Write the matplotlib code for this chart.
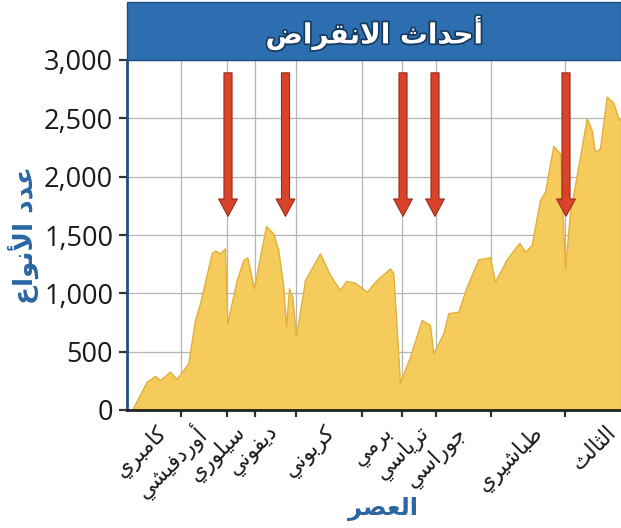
import matplotlib
matplotlib.use("Agg")
import matplotlib.pyplot as plt
import matplotlib.transforms as mtransforms
from matplotlib import patheffects
from matplotlib.patches import Rectangle
from matplotlib.ticker import FuncFormatter

# species count through time (x is position along the time axis, arbitrary units)
time = [5, 19.7, 28, 33, 43, 49.7, 61.3, 68, 73, 84.7, 88, 93, 98, 100.3,
        109.7, 116.3, 120.3, 127, 133, 139, 146.3, 151.3, 156.3, 159, 162,
        165.3, 169, 178, 193, 203, 213, 219, 228, 239.7, 249.7, 263, 266.3,
        273, 283, 294.7, 303, 306.3, 316.3, 321.3, 331.3, 339.7, 351.3, 363,
        368, 379.7, 392.3, 398, 404.7, 413, 418, 426.3, 433, 438, 443, 453,
        459.7, 464.7, 468, 473, 479.7, 486.3, 491.3, 494]
species = [0, 243, 291, 257, 329, 266, 400, 771, 914, 1343, 1366, 1343, 1386, 743,
           1114, 1286, 1309, 1043, 1315, 1577, 1514, 1371, 1057, 714, 1043,
           971, 634, 1114, 1343, 1157, 1029, 1106, 1091, 1014, 1114, 1214, 1171,
           234, 457, 771, 729, 486, 657, 829, 843, 1057, 1291, 1309,
           1100, 1291, 1434, 1357, 1414, 1800, 1871, 2263, 2200, 1214, 1686, 2171,
           2500, 2400, 2214, 2243, 2686, 2634, 2500, 2480]

period_names = ['كامبري', 'أوردفيشي', 'سيلوري', 'ديفوني', 'كربوني',
                'برمي', 'ترياسي', 'جوراسي', 'طباشيري', 'الثالث']
period_label_x = [37, 75, 115, 149, 205, 263, 298, 336, 413, 486]
period_bounds = [54, 100, 127.5, 169, 234.5, 274.5, 309, 364, 438]

extinction_x = [101, 158.5, 276, 308, 439]
arrow_top = 2890
arrow_tip = 1660

title = 'أحداث الانقراض'
ylabel = 'عدد الأنواع'
xlabel = 'العصر'

# matplotlib has no arabic shaping, so pick the contextual forms by hand
# (isolated, final, initial, medial); None = letter never joins the next one
FORMS = {
    'ا': ('\ufe8d', '\ufe8e', None, None),
    'أ': ('\ufe83', '\ufe84', None, None),
    'ب': ('\ufe8f', '\ufe90', '\ufe91', '\ufe92'),
    'ت': ('\ufe95', '\ufe96', '\ufe97', '\ufe98'),
    'ث': ('\ufe99', '\ufe9a', '\ufe9b', '\ufe9c'),
    'ج': ('\ufe9d', '\ufe9e', '\ufe9f', '\ufea0'),
    'ح': ('\ufea1', '\ufea2', '\ufea3', '\ufea4'),
    'د': ('\ufea9', '\ufeaa', None, None),
    'ر': ('\ufead', '\ufeae', None, None),
    'س': ('\ufeb1', '\ufeb2', '\ufeb3', '\ufeb4'),
    'ش': ('\ufeb5', '\ufeb6', '\ufeb7', '\ufeb8'),
    'ص': ('\ufeb9', '\ufeba', '\ufebb', '\ufebc'),
    'ض': ('\ufebd', '\ufebe', '\ufebf', '\ufec0'),
    'ط': ('\ufec1', '\ufec2', '\ufec3', '\ufec4'),
    'ع': ('\ufec9', '\ufeca', '\ufecb', '\ufecc'),
    'ف': ('\ufed1', '\ufed2', '\ufed3', '\ufed4'),
    'ق': ('\ufed5', '\ufed6', '\ufed7', '\ufed8'),
    'ك': ('\ufed9', '\ufeda', '\ufedb', '\ufedc'),
    'ل': ('\ufedd', '\ufede', '\ufedf', '\ufee0'),
    'م': ('\ufee1', '\ufee2', '\ufee3', '\ufee4'),
    'ن': ('\ufee5', '\ufee6', '\ufee7', '\ufee8'),
    'و': ('\ufeed', '\ufeee', None, None),
    'ي': ('\ufef1', '\ufef2', '\ufef3', '\ufef4'),
    'لا': ('\ufefb', '\ufefc', None, None),
    'لأ': ('\ufef7', '\ufef8', None, None),
}


def arabic(text):
    units = []
    i = 0
    while i < len(text):
        if text[i] == 'ل' and text[i + 1:i + 2] in ('ا', 'أ'):
            units.append(text[i:i + 2])
            i += 2
        else:
            units.append(text[i])
            i += 1
    out = []
    for k, u in enumerate(units):
        if u not in FORMS:
            out.append(u)
            continue
        prev = units[k - 1] if k > 0 else None
        nxt = units[k + 1] if k + 1 < len(units) else None
        join_prev = prev in FORMS and FORMS[prev][2] is not None
        join_next = FORMS[u][2] is not None and nxt in FORMS
        iso, fin, ini, med = FORMS[u]
        if join_prev and join_next:
            out.append(med)
        elif join_prev:
            out.append(fin)
        elif join_next:
            out.append(ini)
        else:
            out.append(iso)
    return ''.join(reversed(out))


BLUE = '#2c6eb0'
LABEL_BLUE = '#2a67a3'

fig = plt.figure(figsize=(6.21, 5.28), dpi=100)
ax = fig.add_axes([127 / 621, 1 - 410 / 528, 494 / 621, 350 / 528])

ax.fill_between(time, species, color='#f5cc5c', ec='#e2b03a', lw=1, zorder=2)

for x in extinction_x:
    ax.annotate('', xy=(x, arrow_tip), xytext=(x, arrow_top),
                arrowprops=dict(arrowstyle='simple,head_length=12.5,head_width=13.5,tail_width=5.8',
                                mutation_scale=1, fc='#d9432b', ec='#9a2c1c', lw=0.8,
                                shrinkA=0, shrinkB=0),
                zorder=4)

ax.set_xlim(0, 494)
ax.set_ylim(0, 3000)
ax.set_yticks(range(0, 3001, 500))
ax.yaxis.set_major_formatter(FuncFormatter(lambda v, p: f'{int(v):,}'))
ax.set_xticks(period_bounds)
ax.set_xticklabels([])
ax.grid(True, color='#b4b4b4', lw=0.9)
ax.set_axisbelow(True)

ax.tick_params(axis='y', length=6, width=1.6, pad=4, labelsize=19.5, color='#333333')
ax.tick_params(axis='x', length=5, width=1.6, color='#333333')
for lab in ax.get_yticklabels():
    lab.set_family('Open Sans')
    lab.set_color('#1a1a1a')

ax.spines['top'].set_visible(False)
ax.spines['right'].set_visible(False)
ax.spines['left'].set_color('#1f4f7f')
ax.spines['left'].set_linewidth(2)
ax.spines['bottom'].set_color('#222222')
ax.spines['bottom'].set_linewidth(2)

# period names under the axis
trans = mtransforms.blended_transform_factory(ax.transData, ax.transAxes)
for name, x in zip(period_names, period_label_x):
    ax.text(x, -0.055, arabic(name), transform=trans, rotation=45, rotation_mode='anchor',
            ha='right', va='center', fontsize=15.5, family='DejaVu Sans', color='#1a1a1a')

# blue header with the title
ax.add_patch(Rectangle((0, 1.0), 1, 0.165, transform=ax.transAxes, clip_on=False,
                       fc=BLUE, ec='#1d4f85', lw=1, zorder=5))
ax.text(0.5, 1.077, arabic(title), transform=ax.transAxes, ha='center', va='center',
        fontsize=20, fontweight='bold', color='white', family='DejaVu Sans', zorder=6,
        path_effects=[patheffects.withStroke(linewidth=2.5, foreground='#173a5e')])

ax.text(-0.21, 0.5, arabic(ylabel), transform=ax.transAxes, rotation=90, ha='center',
        va='center', fontsize=19, fontweight='bold', color=LABEL_BLUE, family='DejaVu Sans')
ax.text(0.518, -0.283, arabic(xlabel), transform=ax.transAxes, ha='center', va='center',
        fontsize=17.5, fontweight='bold', color=LABEL_BLUE, family='DejaVu Sans')

fig.savefig('out.png', dpi=100)
